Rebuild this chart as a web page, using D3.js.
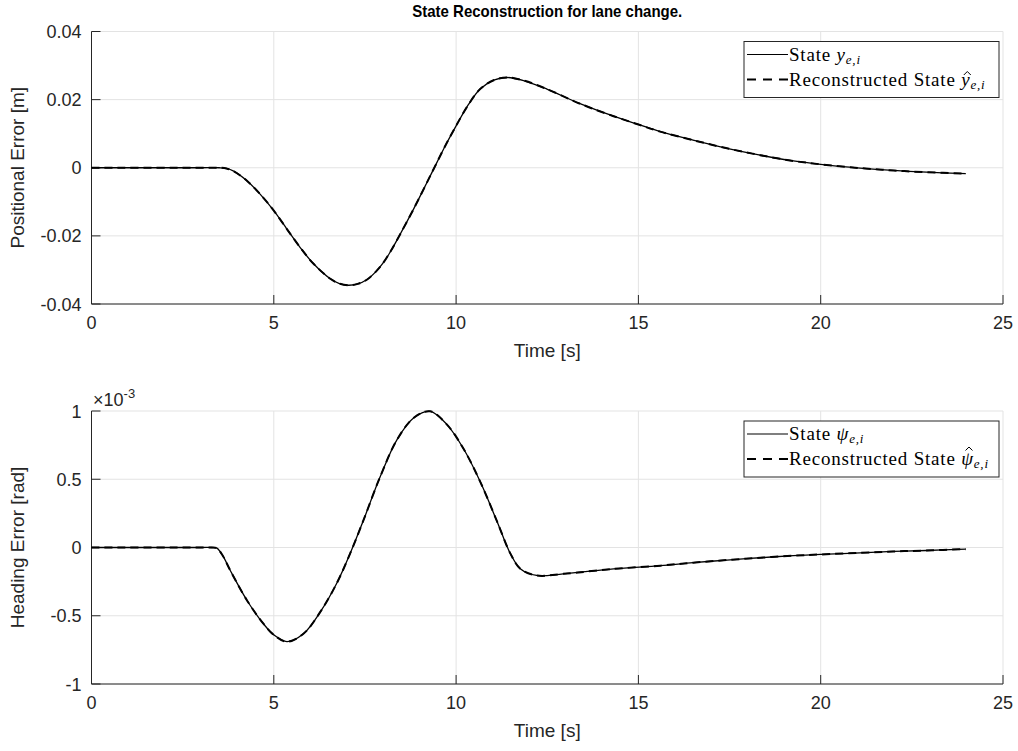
<!DOCTYPE html>
<html lang="en">
<head>
<meta charset="UTF-8">
<title>State Reconstruction for lane change.</title>
<script src="https://d3js.org/d3.v7.min.js"></script>
<style>
    body { margin: 0; background: #ffffff; }
    svg { display: block; font-family: 'Liberation Sans', Arial, sans-serif; }
    .grid line { stroke: #e3e3e3; stroke-width: 1; }
    .tick-label { font-size: 18px; fill: #262626; }
    .axis-label { font-size: 19px; fill: #262626; }
    .legend-text { font-family: 'Liberation Serif', 'Times New Roman', serif; font-size: 19px; letter-spacing: 0.8px; fill: #000; }
</style>
</head>
<body>
<svg id="chart" width="1018" height="751"></svg>
<script>
// ---- data ----
// top panel: positional error [m]
const timeTop = [0, 3.0, 3.5, 3.7, 3.9, 4.27, 4.63, 5.0, 5.36, 5.73, 6.09, 6.55, 6.8, 7.05, 7.3, 7.56,
    7.8, 8.01, 8.2, 8.38, 8.84, 9.29, 9.75, 10.0, 10.3, 10.66, 11.03, 11.39, 11.85, 12.49, 13.4, 14.3,
    15.0, 15.6, 16.5, 17.43, 18.34, 19.25, 20.0, 21.08, 21.99, 22.9, 23.98];
const posError = [0, 0, 0, -0.0002, -0.001, -0.0039, -0.0078, -0.0126, -0.018, -0.0235, -0.0282,
    -0.0326, -0.0340, -0.0345, -0.0341, -0.0328, -0.0305, -0.0278, -0.0246, -0.0212, -0.0120,
    -0.0024, 0.0074, 0.0123, 0.0179, 0.0231, 0.0257, 0.0265, 0.0256, 0.0231, 0.0188, 0.0152,
    0.0127, 0.0106, 0.0081, 0.0057, 0.0037, 0.0020, 0.0010, -0.0001, -0.0008, -0.0013, -0.0017];
const posErrorRecon = [0, 0, 0, -0.0002, -0.001, -0.0039, -0.0078, -0.0126, -0.018, -0.0235, -0.0282,
    -0.0326, -0.0340, -0.0345, -0.0341, -0.0328, -0.0305, -0.0278, -0.0246, -0.0212, -0.0120,
    -0.0024, 0.0074, 0.0123, 0.0179, 0.0231, 0.0257, 0.0265, 0.0256, 0.0231, 0.0188, 0.0152,
    0.0127, 0.0106, 0.0081, 0.0057, 0.0037, 0.0020, 0.0010, -0.0001, -0.0008, -0.0013, -0.0017];

// bottom panel: heading error [rad], values in units of 1e-3
const timeBottom = [0, 3.0, 3.3, 3.44, 3.6, 3.81, 4.27, 4.72, 5.0, 5.36, 5.82, 6.28, 6.73, 7.1, 7.46, 7.92,
    8.38, 8.84, 9.29, 9.75, 10.2, 10.66, 11.12, 11.49, 11.76, 12.21, 12.94, 14.32, 15.6, 16.5,
    17.43, 18.34, 19.25, 20.0, 21.08, 21.99, 22.9, 23.98];
const headError = [0, 0, 0, -0.005, -0.06, -0.17, -0.39, -0.56, -0.64, -0.69, -0.63, -0.47, -0.26,
    -0.04, 0.20, 0.52, 0.79, 0.95, 0.998, 0.90, 0.725, 0.483, 0.193, -0.045, -0.155,
    -0.205, -0.193, -0.157, -0.133, -0.111, -0.092, -0.075, -0.060, -0.051, -0.039, -0.029,
    -0.022, -0.012];
const headErrorRecon = [0, 0, 0, -0.005, -0.06, -0.17, -0.39, -0.56, -0.64, -0.69, -0.63, -0.47, -0.26,
    -0.04, 0.20, 0.52, 0.79, 0.95, 0.998, 0.90, 0.725, 0.483, 0.193, -0.045, -0.155,
    -0.205, -0.193, -0.157, -0.133, -0.111, -0.092, -0.075, -0.060, -0.051, -0.039, -0.029,
    -0.022, -0.012];

const xTicks = [0, 5, 10, 15, 20, 25];
const yTicksTop = [-0.04, -0.02, 0, 0.02, 0.04];
const yTickLabelsTop = ['-0.04', '-0.02', '0', '0.02', '0.04'];
const yTicksBottom = [-1, -0.5, 0, 0.5, 1];
const yTickLabelsBottom = ['-1', '-0.5', '0', '0.5', '1'];

const svg = d3.select('#chart');
const axisColor = '#262626';

const x = d3.scaleLinear().domain([0, 25]).range([91.5, 1003]);

// small hat accent (drawn as a path) over one character of a legend entry
function addHat(parent, textSel, charIndex, baseline) {
    const ext = textSel.node().getExtentOfChar(charIndex);
    const cx = ext.x + ext.width / 2 + 1.5;
    const top = baseline - 14;
    parent.append('path')
        .attr('d', `M${cx - 3.5},${top + 3.5} L${cx},${top} L${cx + 3.5},${top + 3.5}`)
        .attr('fill', 'none').attr('stroke', '#000').attr('stroke-width', 1);
}

function drawPanel(opts) {
    const y = d3.scaleLinear().domain(opts.domain).range(opts.range);
    const g = svg.append('g');
    const [yBot, yTop] = opts.range;

    // grid
    const grid = g.append('g').attr('class', 'grid');
    grid.selectAll('.gx').data(xTicks).enter().append('line')
        .attr('x1', d => x(d)).attr('x2', d => x(d))
        .attr('y1', yTop).attr('y2', yBot);
    grid.selectAll('.gy').data(opts.yTicks).enter().append('line')
        .attr('x1', x(0)).attr('x2', x(25))
        .attr('y1', d => y(d)).attr('y2', d => y(d));

    // axis lines (box off)
    g.append('line').attr('x1', x(0)).attr('x2', x(0)).attr('y1', yTop).attr('y2', yBot)
        .attr('stroke', axisColor).attr('stroke-width', 1);
    g.append('line').attr('x1', x(0)).attr('x2', x(25)).attr('y1', yBot).attr('y2', yBot)
        .attr('stroke', axisColor).attr('stroke-width', 1);

    // inward ticks
    g.selectAll('.tx').data(xTicks).enter().append('line')
        .attr('x1', d => x(d)).attr('x2', d => x(d))
        .attr('y1', yBot).attr('y2', yBot - 9)
        .attr('stroke', axisColor);
    g.selectAll('.ty').data(opts.yTicks).enter().append('line')
        .attr('x1', x(0)).attr('x2', x(0) + 9)
        .attr('y1', d => y(d)).attr('y2', d => y(d))
        .attr('stroke', axisColor);

    // tick labels
    g.selectAll('.lx').data(xTicks).enter().append('text')
        .attr('class', 'tick-label')
        .attr('x', d => x(d)).attr('y', yBot + 25)
        .attr('text-anchor', 'middle')
        .text(d => d);
    g.selectAll('.ly').data(opts.yTicks).enter().append('text')
        .attr('class', 'tick-label')
        .attr('x', x(0) - 10).attr('y', d => y(d) + 6.5)
        .attr('text-anchor', 'end')
        .text((d, i) => opts.yTickLabels[i]);

    // axis labels
    g.append('text').attr('class', 'axis-label')
        .attr('x', (x(0) + x(25)) / 2).attr('y', yBot + 53)
        .attr('text-anchor', 'middle')
        .text('Time [s]');
    g.append('text').attr('class', 'axis-label')
        .attr('transform', `translate(24,${(yTop + yBot) / 2}) rotate(-90)`)
        .attr('text-anchor', 'middle')
        .text(opts.ylabel);

    // curves
    const line = d3.line().curve(d3.curveCatmullRom.alpha(0.5));
    const pts = (t, v) => t.map((d, i) => [x(d), y(v[i])]);
    g.append('path').attr('d', line(pts(opts.time, opts.state)))
        .attr('fill', 'none').attr('stroke', '#000').attr('stroke-width', 1.3);
    g.append('path').attr('d', line(pts(opts.time, opts.recon)))
        .attr('fill', 'none').attr('stroke', '#000').attr('stroke-width', 2)
        .attr('stroke-dasharray', '8,5');

    // legend
    const lg = g.append('g').attr('transform', `translate(744,${yTop + 10})`);
    lg.append('rect').attr('width', 255).attr('height', 56)
        .attr('fill', '#fff').attr('stroke', axisColor).attr('stroke-width', 1);
    lg.append('line').attr('x1', 3).attr('x2', 44).attr('y1', 13).attr('y2', 13)
        .attr('stroke', '#000').attr('stroke-width', 1.2);
    lg.append('line').attr('x1', 3).attr('x2', 44).attr('y1', 38).attr('y2', 38)
        .attr('stroke', '#000').attr('stroke-width', 2.2).attr('stroke-dasharray', '9,7');

    const t1 = lg.append('text').attr('class', 'legend-text').attr('x', 45).attr('y', 19);
    t1.append('tspan').text('State ');
    t1.append('tspan').attr('font-style', 'italic').text(opts.sym);
    t1.append('tspan').attr('font-style', 'italic').attr('font-size', 13).attr('dy', 3).text('e,i');

    const t2 = lg.append('text').attr('class', 'legend-text').attr('x', 45).attr('y', 44);
    t2.append('tspan').text('Reconstructed State ');
    t2.append('tspan').attr('font-style', 'italic').text(opts.sym);
    t2.append('tspan').attr('font-style', 'italic').attr('font-size', 13).attr('dy', 3).text('e,i');
    addHat(lg, t2, 'Reconstructed State '.length, opts.hatBase);

    return g;
}

drawPanel({
    domain: [-0.04, 0.04], range: [304, 31.5],
    yTicks: yTicksTop, yTickLabels: yTickLabelsTop,
    ylabel: 'Positional Error [m]',
    time: timeTop, state: posError, recon: posErrorRecon,
    sym: 'y', hatBase: 44
});

const bottom = drawPanel({
    domain: [-1, 1], range: [684, 411],
    yTicks: yTicksBottom, yTickLabels: yTickLabelsBottom,
    ylabel: 'Heading Error [rad]',
    time: timeBottom, state: headError, recon: headErrorRecon,
    sym: '\u03C8', hatBase: 40
});

// exponent label
const expo = bottom.append('text').attr('class', 'tick-label').attr('x', 93).attr('y', 406);
expo.append('tspan').text('\u00D710');
expo.append('tspan').attr('font-size', 13).attr('dy', -8).text('-3');

// title
svg.append('text')
    .attr('x', (x(0) + x(25)) / 2).attr('y', 17)
    .attr('text-anchor', 'middle')
    .attr('font-weight', 'bold').attr('font-size', 17)
    .attr('fill', '#000')
    .attr('textLength', 270).attr('lengthAdjust', 'spacingAndGlyphs')
    .text('State Reconstruction for lane change.');
</script>
</body>
</html>
